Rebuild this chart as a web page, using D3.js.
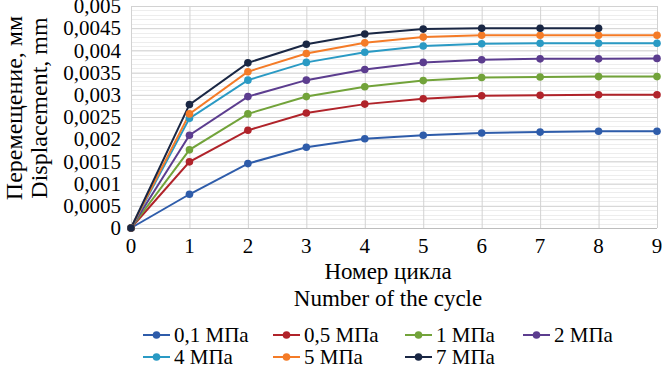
<!DOCTYPE html>
<html>
<head>
<meta charset="utf-8">
<script src="https://cdn.jsdelivr.net/npm/d3@7"></script>
<style>
  body { margin: 0; background: #fff; }
</style>
</head>
<body>
<div id="my_dataviz_cycles"></div>
<script>
// data
const cycles = [0, 1, 2, 3, 4, 5, 6, 7, 8, 9];
const seriesNames = ["0,1 МПа", "0,5 МПа", "1 МПа", "2 МПа", "4 МПа", "5 МПа", "7 МПа"];
const seriesColors = ["#2e5caa", "#b0232a", "#72a33a", "#5c3d8f", "#2a9ac4", "#f47b27", "#1a2744"];
const disp_01 = [0, 0.00076, 0.00145, 0.00182, 0.00201, 0.00209, 0.00214, 0.00216, 0.00218, 0.00218];
const disp_05 = [0, 0.00149, 0.00220, 0.00259, 0.00279, 0.00291, 0.00298, 0.00299, 0.00300, 0.00300];
const disp_1  = [0, 0.00176, 0.00257, 0.00296, 0.00318, 0.00332, 0.00339, 0.00340, 0.00341, 0.00341];
const disp_2  = [0, 0.00209, 0.00296, 0.00333, 0.00357, 0.00373, 0.00379, 0.00381, 0.00381, 0.00382];
const disp_4  = [0, 0.00247, 0.00333, 0.00373, 0.00396, 0.00410, 0.00415, 0.00416, 0.00416, 0.00416];
const disp_5  = [0, 0.00257, 0.00352, 0.00393, 0.00417, 0.00430, 0.00434, 0.00434, 0.00434, 0.00434];
const disp_7  = [0, 0.00278, 0.00372, 0.00414, 0.00437, 0.00448, 0.00450, 0.00450, 0.00450];
const yTicks = [0, 0.0005, 0.001, 0.0015, 0.002, 0.0025, 0.003, 0.0035, 0.004, 0.0045, 0.005];
const yTickLabels = ["0", "0,0005", "0,001", "0,0015", "0,002", "0,0025", "0,003", "0,0035", "0,004", "0,0045", "0,005"];
const yMinorStep = 0.0001;

const serifFont = "'Liberation Serif', 'Times New Roman', 'DejaVu Serif', serif";

function generate_cycles() {
  const margin = {top: 6, right: 5, bottom: 144, left: 131},
      width = 662 - margin.left - margin.right,
      height = 372 - margin.top - margin.bottom;

  const root = d3.select("#my_dataviz_cycles")
    .append("svg")
      .attr("width", 662)
      .attr("height", 372)
      .attr("font-family", serifFont)
      .style("font-family", serifFont);

  const svg = root.append("g")
      .attr("transform", `translate(${margin.left}, ${margin.top})`);

  const allData = [disp_01, disp_05, disp_1, disp_2, disp_4, disp_5, disp_7];
  const dataReady = seriesNames.map(function(name, i) {
    return {
      name: name,
      color: seriesColors[i],
      values: allData[i].map(function(v, j) { return {cycle: cycles[j], value: v}; })
    };
  });

  const x = d3.scaleLinear().domain([0, 9]).range([0, width]);
  const y = d3.scaleLinear().domain([0, 0.005]).range([height, 0]);

  // minor horizontal grid
  svg.append("g")
    .selectAll("line")
    .data(d3.range(0, 0.00501, yMinorStep))
    .join("line")
      .attr("x1", 0).attr("x2", width)
      .attr("y1", d => Math.round(y(d)) + 0.5).attr("y2", d => Math.round(y(d)) + 0.5)
      .attr("stroke", "#ededed");

  // major grid
  svg.append("g")
    .call(d3.axisLeft(y).tickValues(yTicks).tickSize(-width).tickFormat(""))
    .call(g => g.select(".domain").remove())
    .call(g => g.selectAll("line").attr("stroke", "#d2d2d2"));

  svg.append("g")
    .attr("transform", `translate(0, ${height})`)
    .call(d3.axisBottom(x).tickValues(cycles).tickSize(-height).tickFormat(""))
    .call(g => g.select(".domain").remove())
    .call(g => g.selectAll("line").attr("stroke", "#d2d2d2"));

  // bottom axis line
  svg.append("line")
    .attr("x1", 0).attr("x2", width)
    .attr("y1", height + 0.5).attr("y2", height + 0.5)
    .attr("stroke", "#bdbdbd");

  // tick labels
  svg.append("g")
    .selectAll("text")
    .data(yTicks)
    .join("text")
      .attr("x", -10)
      .attr("y", d => y(d))
      .attr("dy", "0.34em")
      .style("text-anchor", "end")
      .style("font-size", "21px")
      .text((d, i) => yTickLabels[i]);

  svg.append("g")
    .selectAll("text")
    .data(cycles)
    .join("text")
      .attr("x", d => x(d))
      .attr("y", height + 25)
      .style("text-anchor", "middle")
      .style("font-size", "21px")
      .text(d => d);

  // axis titles
  svg.append("text")
    .attr("transform", `translate(${width / 2 - 6}, ${height + 51})`)
    .style("text-anchor", "middle")
    .style("font-size", "23px")
    .text("Номер цикла");
  svg.append("text")
    .attr("transform", `translate(${width / 2 - 6}, ${height + 78})`)
    .style("text-anchor", "middle")
    .style("font-size", "23px")
    .text("Number of the cycle");

  svg.append("text")
    .attr("transform", `translate(${22 - margin.left}, ${height / 2 - 9}) rotate(-90)`)
    .style("text-anchor", "middle")
    .style("font-size", "24px")
    .text("Перемещение, мм");
  svg.append("text")
    .attr("transform", `translate(${47 - margin.left}, ${height / 2 - 9}) rotate(-90)`)
    .style("text-anchor", "middle")
    .style("font-size", "24px")
    .text("Displacement, mm");

  // lines
  const line = d3.line()
    .x(d => x(d.cycle))
    .y(d => y(d.value));

  svg.selectAll("myLines")
    .data(dataReady)
    .join("path")
      .attr("d", d => line(d.values))
      .attr("stroke", d => d.color)
      .style("stroke-width", 2)
      .style("fill", "none");

  svg.selectAll("myDots")
    .data(dataReady)
    .join("g")
      .style("fill", d => d.color)
    .selectAll("circle")
    .data(d => d.values)
    .join("circle")
      .attr("cx", d => x(d.cycle))
      .attr("cy", d => y(d.value))
      .attr("r", 3.8);

  // legend
  const legendCols = [143, 273, 405, 523];
  const legend = root.append("g");
  const item = legend.selectAll("g")
    .data(dataReady)
    .join("g")
      .attr("transform", (d, i) => `translate(${legendCols[i % 4]}, ${i < 4 ? 335 : 357})`);
  item.append("line")
    .attr("x1", 0).attr("x2", 27)
    .attr("stroke", d => d.color)
    .style("stroke-width", 2);
  item.append("circle")
    .attr("cx", 13.5)
    .attr("r", 3.8)
    .style("fill", d => d.color);
  item.append("text")
    .attr("x", 31)
    .attr("dy", "0.33em")
    .style("font-size", "21px")
    .text(d => d.name);
}

generate_cycles();
</script>
</body>
</html>
